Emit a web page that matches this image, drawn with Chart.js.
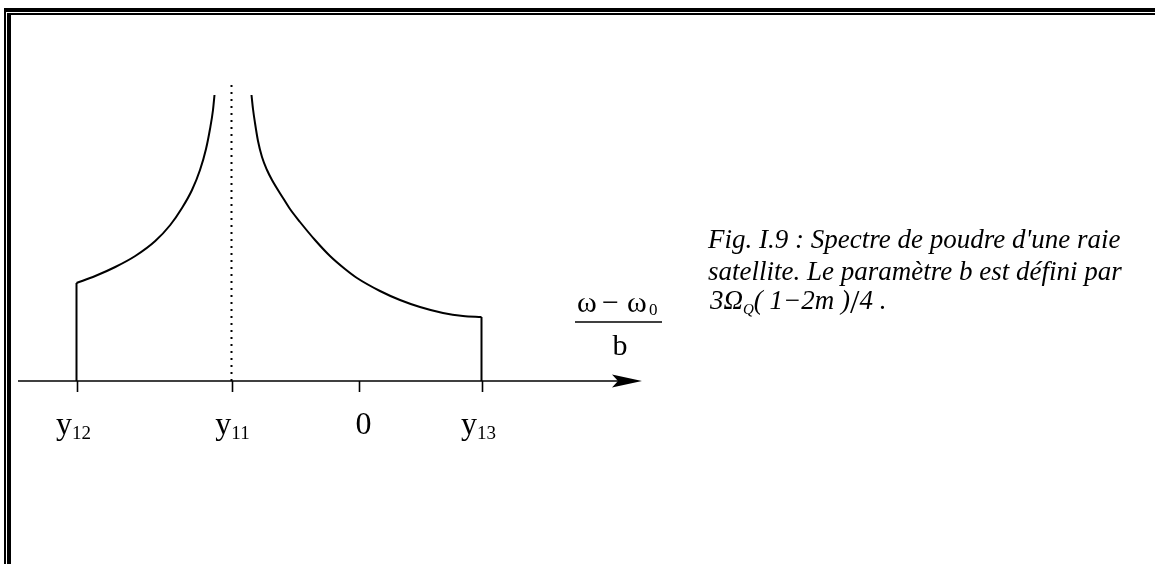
<!DOCTYPE html>
<html>
<head>
<meta charset="utf-8">
<script src="https://cdn.jsdelivr.net/npm/chart.js@4.4.1/dist/chart.umd.min.js"></script>
<style>
  html, body { margin: 0; padding: 0; background: #fff; }
  #wrap { position: relative; width: 1155px; height: 564px; }
</style>
</head>
<body>
<div id="wrap"><canvas id="spectre" width="1155" height="564"></canvas></div>
<script>
// positions along the reduced frequency axis (omega - omega0) / b
const tickValues = [-2.26, -1.02, 0, 0.98];
const tickMain = ['y', 'y', '0', 'y'];
const tickSub = ['12', '11', '', '13'];

// left wing of the powder pattern, from the y12 edge up to the y11 singularity
const leftX = [-2.26, -2.11, -1.95, -1.79, -1.63, -1.51, -1.416, -1.336, -1.272, -1.224, -1.192, -1.168, -1.156];
const leftY = [0.98, 1.05, 1.14, 1.25, 1.40, 1.56, 1.73, 1.91, 2.11, 2.32, 2.52, 2.71, 2.86];

// right wing, from the singularity down to the y13 edge
const rightX = [-0.86, -0.848, -0.832, -0.808, -0.776, -0.736, -0.696, -0.608, -0.552, -0.472, -0.352,
  -0.232, -0.112, -0.016, 0.168, 0.328, 0.488, 0.672, 0.832, 0.98];
const rightY = [2.86, 2.72, 2.58, 2.40, 2.24, 2.11, 2.01, 1.83, 1.72, 1.59, 1.41,
  1.25, 1.12, 1.03, 0.90, 0.81, 0.74, 0.68, 0.65, 0.64];

// sharp edges of the line shape at y12 and y13
const edgeLeftX = [-2.26, -2.26];
const edgeLeftY = [0, 0.98];
const edgeRightX = [0.98, 0.98];
const edgeRightY = [0.64, 0];

// dotted marker through y11
const markX = [-1.02, -1.02];
const markY = [0, 2.96];

const pts = (xs, ys) => xs.map((x, i) => ({ x: x, y: ys[i] }));

const serif = '"Liberation Serif", "DejaVu Serif", serif';

const pageDecor = {
  id: 'pageDecor',
  afterDraw(chart) {
    const ctx = chart.ctx;
    const xs = chart.scales.x;
    const ys = chart.scales.y;
    const y0 = ys.getPixelForValue(0);
    ctx.save();

    // page border, thick/thin
    ctx.fillStyle = '#000';
    ctx.fillRect(4, 8, 1151, 4);
    ctx.fillRect(4, 8, 2, 556);
    ctx.fillRect(7, 13, 1148, 2);
    ctx.fillRect(7, 13, 4, 551);

    // horizontal axis with arrow
    const tip = xs.right;
    ctx.strokeStyle = '#000';
    ctx.lineWidth = 1.6;
    ctx.beginPath();
    ctx.moveTo(xs.left, y0);
    ctx.lineTo(tip - 20, y0);
    ctx.stroke();
    ctx.beginPath();
    ctx.moveTo(tip, y0);
    ctx.lineTo(tip - 30, y0 - 6.5);
    ctx.lineTo(tip - 24, y0);
    ctx.lineTo(tip - 30, y0 + 6.5);
    ctx.closePath();
    ctx.fill();

    // ticks and their labels (labels set a little off-centre, as typeset)
    const nudge = [-4, 0, 4, -4];
    ctx.textBaseline = 'alphabetic';
    ctx.textAlign = 'left';
    tickValues.forEach((v, i) => {
      const px = Math.round(xs.getPixelForValue(v)) + 0.5;
      ctx.lineWidth = 1.6;
      ctx.beginPath();
      ctx.moveTo(px, y0);
      ctx.lineTo(px, y0 + 11);
      ctx.stroke();

      ctx.font = '32px ' + serif;
      const wMain = ctx.measureText(tickMain[i]).width;
      ctx.font = '19px ' + serif;
      const wSub = ctx.measureText(tickSub[i]).width;
      const left = px - (wMain + wSub) / 2 + nudge[i];
      ctx.font = '32px ' + serif;
      ctx.fillText(tickMain[i], left, 434);
      ctx.font = '19px ' + serif;
      ctx.fillText(tickSub[i], left + wMain, 439);
    });

    // axis title as a fraction
    ctx.font = '30px ' + serif;
    ctx.fillText('\u03c9', 577, 312);
    ctx.fillText('\u2212', 602, 312);
    ctx.fillText('\u03c9', 627, 312);
    ctx.font = '17px ' + serif;
    ctx.fillText('0', 649, 315);
    ctx.lineWidth = 1.6;
    ctx.beginPath();
    ctx.moveTo(575, 322);
    ctx.lineTo(662, 322);
    ctx.stroke();
    ctx.font = '30px ' + serif;
    ctx.textAlign = 'center';
    ctx.fillText('b', 620, 355);

    // caption
    const cx = 708;
    ctx.textAlign = 'left';
    ctx.font = 'italic 27px ' + serif;
    ctx.fillText("Fig. I.9 : Spectre de poudre d'une raie", cx, 248);
    ctx.fillText('satellite. Le param\u00e8tre b est d\u00e9fini par', cx, 280);
    let x = cx + 2;
    const put = (s, size, dy) => {
      ctx.font = 'italic ' + size + 'px ' + serif;
      ctx.fillText(s, x, 309 + dy);
      x += ctx.measureText(s).width;
    };
    put('3\u03a9', 27, 0);
    put('Q', 15, 5);
    put('( 1\u22122m )', 27, 0);
    ctx.font = '34px ' + serif;
    ctx.fillText('/', x, 313);
    x += ctx.measureText('/').width;
    put('4 .', 27, 0);

    ctx.restore();
  }
};

const curve = (xs, ys) => ({
  data: pts(xs, ys),
  borderColor: '#000',
  borderWidth: 2,
  pointRadius: 0,
  cubicInterpolationMode: 'monotone'
});

new Chart(document.getElementById('spectre'), {
  type: 'line',
  data: {
    datasets: [
      curve(leftX, leftY),
      curve(rightX, rightY),
      curve(edgeLeftX, edgeLeftY),
      curve(edgeRightX, edgeRightY),
      {
        data: pts(markX, markY),
        borderColor: '#000',
        borderWidth: 2,
        borderDash: [2, 5],
        pointRadius: 0
      }
    ]
  },
  options: {
    responsive: false,
    animation: false,
    devicePixelRatio: 1,
    layout: { padding: { left: 18, right: 513, top: 81, bottom: 183 } },
    plugins: { legend: { display: false }, tooltip: { enabled: false } },
    scales: {
      x: { type: 'linear', min: -2.728, max: 2.264, display: false },
      y: { type: 'linear', min: 0, max: 3, display: false }
    }
  },
  plugins: [pageDecor]
});
</script>
</body>
</html>
